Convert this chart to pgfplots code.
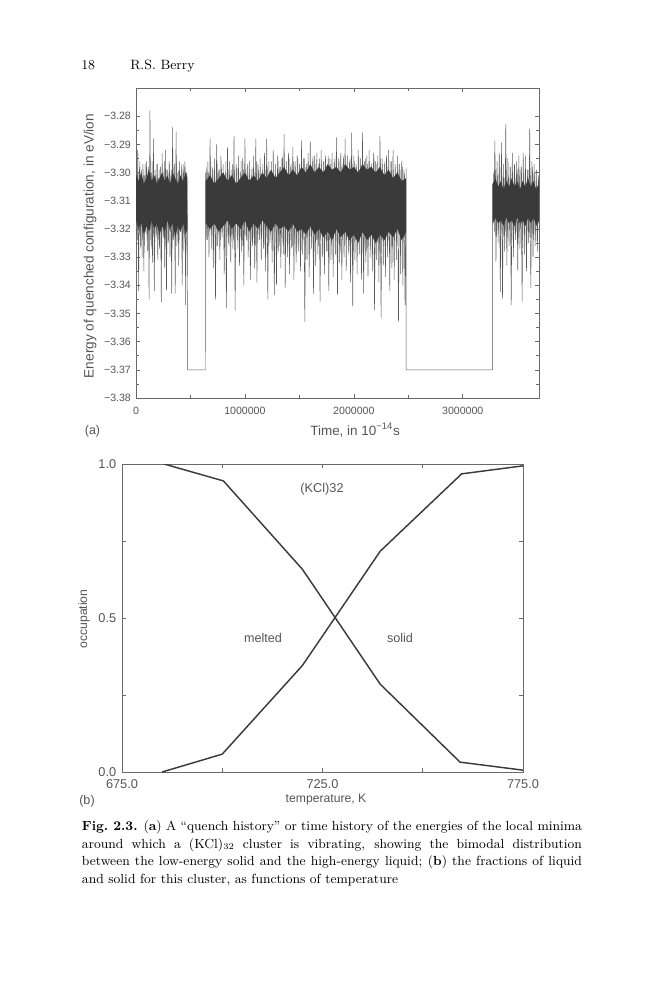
\documentclass[border=0pt]{standalone}
\usepackage{fontspec}
\usepackage{pgfplots}
\pgfplotsset{compat=1.18}
\newfontfamily\hv{Liberation Sans}
\definecolor{framegray}{RGB}{105,105,105}
\definecolor{labelgray}{RGB}{85,85,85}
\definecolor{linegray}{RGB}{88,88,88}
\definecolor{fringegray}{RGB}{100,100,100}
\definecolor{bandgray}{RGB}{58,58,58}
\definecolor{curvegray}{RGB}{58,58,58}
\begin{document}
\begin{tikzpicture}
\begin{scope}[x=0.69pt,y=-0.69pt]
\path[use as bounding box] (0,0) rectangle (659,1000);
\end{scope}
% ---------------- (a) quench history ----------------
\begin{axis}[
  at={(93.84pt,-274.62pt)}, anchor=south west,
  width=278.07pt, height=213.9pt, scale only axis,
  xmin=0, xmax=3700, ymin=-3.38, ymax=-3.27,
  xtick={0,1000,2000,3000}, xticklabels={0,1000000,2000000,3000000},
  minor x tick num=1,
  ytick={-3.38,-3.37,-3.36,-3.35,-3.34,-3.33,-3.32,-3.31,-3.30,-3.29,-3.28},
  yticklabels={−3.38,−3.37,−3.36,−3.35,−3.34,−3.33,−3.32,−3.31,−3.30,−3.29,−3.28},
  minor y tick num=1,
  axis line style={draw=framegray, line width=0.4pt},
  every tick/.style={draw=framegray, line width=0.4pt},
  major tick length=2.6pt, minor tick length=1.8pt,
  tick label style={font=\hv\fontsize{7.3}{8}\selectfont, text=labelgray},
  xticklabel style={yshift=-2.5pt},
]
% quenched energies (main trace, with the spikes and the solid-state plateaus)
\addplot[draw=linegray, line width=0.33pt] coordinates {
(0,-3.292) (8,-3.322) (16,-3.292) (24,-3.342) (32,-3.298) (40,-3.326) (48,-3.300) (56,-3.330) (64,-3.297) (72,-3.335) (80,-3.301) (88,-3.321) (96,-3.296) (104,-3.328) (112,-3.299) (120,-3.345) (128,-3.278) (136,-3.324) (144,-3.300) (152,-3.332) (160,-3.288) (168,-3.342) (176,-3.299) (184,-3.323) (192,-3.297) (200,-3.331) (208,-3.302) (216,-3.327) (224,-3.298) (232,-3.346) (240,-3.293) (248,-3.322) (256,-3.300) (264,-3.334) (272,-3.292) (280,-3.342) (288,-3.299) (296,-3.325) (304,-3.296) (312,-3.330) (320,-3.301) (328,-3.343) (336,-3.284) (344,-3.324) (352,-3.297) (360,-3.343) (368,-3.2855) (376,-3.326) (384,-3.300) (392,-3.333) (400,-3.296) (408,-3.321) (416,-3.299) (424,-3.340) (432,-3.297) (440,-3.328) (448,-3.296) (456,-3.347) (464,-3.300) (472,-3.318)
(474,-3.370) (638,-3.370)
(640,-3.300) (650,-3.324) (660,-3.296) (670,-3.330) (680,-3.288) (690,-3.322) (700,-3.298) (710,-3.334) (720,-3.295) (730,-3.345) (740,-3.290) (750,-3.326) (760,-3.299) (770,-3.331) (780,-3.294) (790,-3.323) (800,-3.297) (810,-3.336) (820,-3.300) (830,-3.348) (840,-3.291) (850,-3.325) (860,-3.296) (870,-3.332) (880,-3.299) (890,-3.327) (900,-3.287) (910,-3.349) (920,-3.297) (930,-3.324) (940,-3.294) (950,-3.333) (960,-3.300) (970,-3.328) (980,-3.295) (990,-3.340)
(1000,-3.288) (1010,-3.323) (1020,-3.298) (1030,-3.330) (1040,-3.296) (1050,-3.338) (1060,-3.301) (1070,-3.326) (1080,-3.294) (1090,-3.334) (1100,-3.288) (1110,-3.339) (1120,-3.297) (1130,-3.324) (1140,-3.295) (1150,-3.331) (1160,-3.299) (1170,-3.327) (1180,-3.293) (1190,-3.335) (1200,-3.288) (1210,-3.345) (1220,-3.296) (1230,-3.325) (1240,-3.299) (1250,-3.332) (1260,-3.292) (1270,-3.3435) (1280,-3.297) (1290,-3.340) (1300,-3.294) (1310,-3.328) (1320,-3.298) (1330,-3.334) (1340,-3.295) (1350,-3.326) (1360,-3.2864) (1370,-3.341) (1380,-3.296) (1390,-3.330) (1400,-3.293) (1410,-3.336) (1420,-3.298) (1430,-3.327) (1440,-3.291) (1450,-3.338) (1460,-3.296) (1470,-3.332) (1480,-3.294) (1490,-3.328) (1500,-3.297) (1510,-3.335) (1520,-3.2887) (1530,-3.329) (1540,-3.295) (1550,-3.353) (1560,-3.298) (1570,-3.331) (1580,-3.293) (1590,-3.337) (1600,-3.289) (1610,-3.327) (1620,-3.296) (1630,-3.343) (1640,-3.294) (1650,-3.333) (1660,-3.293) (1670,-3.329) (1680,-3.297) (1690,-3.3458) (1700,-3.292) (1710,-3.330) (1720,-3.296) (1730,-3.336) (1740,-3.294) (1750,-3.328) (1760,-3.298) (1770,-3.342) (1780,-3.295) (1790,-3.331) (1800,-3.293) (1810,-3.337) (1820,-3.296) (1830,-3.329) (1840,-3.2875) (1850,-3.3435) (1860,-3.295) (1870,-3.332) (1880,-3.293) (1890,-3.338) (1900,-3.297) (1910,-3.330) (1920,-3.288) (1930,-3.335) (1940,-3.294) (1950,-3.328) (1960,-3.296) (1970,-3.339) (1980,-3.2858) (1990,-3.3476)
(2000,-3.294) (2010,-3.331) (2020,-3.297) (2030,-3.336) (2040,-3.292) (2050,-3.329) (2060,-3.295) (2070,-3.338) (2080,-3.2858) (2090,-3.343) (2100,-3.296) (2110,-3.332) (2120,-3.294) (2130,-3.337) (2140,-3.292) (2150,-3.330) (2160,-3.297) (2170,-3.335) (2180,-3.293) (2190,-3.3488) (2200,-3.296) (2210,-3.331) (2220,-3.294) (2230,-3.339) (2240,-3.287) (2250,-3.3517) (2260,-3.295) (2270,-3.333) (2280,-3.297) (2290,-3.337) (2300,-3.294) (2310,-3.330) (2320,-3.292) (2330,-3.342) (2340,-3.296) (2350,-3.334) (2360,-3.292) (2370,-3.338) (2380,-3.297) (2390,-3.331) (2400,-3.294) (2410,-3.353) (2420,-3.297) (2430,-3.336) (2440,-3.2958) (2450,-3.340) (2460,-3.299) (2470,-3.347) (2480,-3.2985)
(2481,-3.370) (3274,-3.370)
(3275,-3.304) (3285,-3.318) (3295,-3.2887) (3305,-3.3317) (3315,-3.296) (3325,-3.325) (3335,-3.293) (3345,-3.3423) (3355,-3.2893) (3365,-3.3447) (3375,-3.297) (3385,-3.328) (3395,-3.2828) (3405,-3.333) (3415,-3.295) (3425,-3.326) (3435,-3.298) (3445,-3.347) (3455,-3.293) (3465,-3.330) (3475,-3.297) (3485,-3.324) (3495,-3.296) (3505,-3.335) (3515,-3.294) (3525,-3.327) (3535,-3.298) (3545,-3.3458) (3555,-3.293) (3565,-3.329) (3575,-3.294) (3585,-3.335) (3595,-3.299) (3605,-3.325) (3615,-3.2846) (3625,-3.341) (3635,-3.296) (3645,-3.330) (3655,-3.297) (3665,-3.326) (3675,-3.299) (3685,-3.328) (3695,-3.301) (3700,-3.318)
};
% interleaved smaller fluctuations (fringe of the liquid band)
\addplot[draw=fringegray, line width=0.3pt] coordinates {
(4,-3.298) (12,-3.324) (20,-3.300) (28,-3.321) (36,-3.296) (44,-3.327) (52,-3.299) (60,-3.323) (68,-3.301) (76,-3.326) (84,-3.297) (92,-3.322) (100,-3.299) (108,-3.324) (116,-3.298) (124,-3.321) (132,-3.300) (140,-3.327) (148,-3.296) (156,-3.323) (164,-3.299) (172,-3.326) (180,-3.301) (188,-3.322) (196,-3.297) (204,-3.324) (212,-3.299) (220,-3.321) (228,-3.298) (236,-3.327) (244,-3.300) (252,-3.323) (260,-3.296) (268,-3.326) (276,-3.299) (284,-3.322) (292,-3.301) (300,-3.324) (308,-3.297) (316,-3.321) (324,-3.299) (332,-3.327) (340,-3.298) (348,-3.323) (356,-3.300) (364,-3.326) (372,-3.296) (380,-3.322) (388,-3.299) (396,-3.324) (404,-3.301) (412,-3.321) (420,-3.297) (428,-3.327) (436,-3.299) (444,-3.323) (452,-3.298) (460,-3.326) (468,-3.300)};
\addplot[draw=fringegray, line width=0.3pt] coordinates {
(645,-3.298) (655,-3.324) (665,-3.300) (675,-3.321) (685,-3.296) (695,-3.327) (705,-3.299) (715,-3.323) (725,-3.301) (735,-3.326) (745,-3.297) (755,-3.322) (765,-3.299) (775,-3.324) (785,-3.298) (795,-3.321) (805,-3.300) (815,-3.327) (825,-3.296) (835,-3.323) (845,-3.299) (855,-3.326) (865,-3.301) (875,-3.322) (885,-3.297) (895,-3.324) (905,-3.299) (915,-3.321) (925,-3.298) (935,-3.327) (945,-3.300) (955,-3.323) (965,-3.296) (975,-3.326) (985,-3.299) (995,-3.322)
(1005,-3.301) (1015,-3.324) (1025,-3.297) (1035,-3.321) (1045,-3.299) (1055,-3.327) (1065,-3.298) (1075,-3.323) (1085,-3.300) (1095,-3.326) (1105,-3.296) (1115,-3.322) (1125,-3.299) (1135,-3.324) (1145,-3.301) (1155,-3.321) (1165,-3.297) (1175,-3.327) (1185,-3.299) (1195,-3.323) (1205,-3.298) (1215,-3.326) (1225,-3.300) (1235,-3.322) (1245,-3.296) (1255,-3.324) (1265,-3.299) (1275,-3.321) (1285,-3.301) (1295,-3.327)
(1305,-3.296) (1315,-3.326) (1325,-3.298) (1335,-3.323) (1345,-3.294) (1355,-3.329) (1365,-3.297) (1375,-3.325) (1385,-3.299) (1395,-3.328) (1405,-3.295) (1415,-3.324) (1425,-3.297) (1435,-3.326) (1445,-3.296) (1455,-3.323) (1465,-3.298) (1475,-3.329) (1485,-3.294) (1495,-3.325) (1505,-3.297) (1515,-3.328) (1525,-3.299) (1535,-3.324) (1545,-3.295) (1555,-3.326) (1565,-3.297) (1575,-3.323) (1585,-3.296) (1595,-3.329) (1605,-3.298) (1615,-3.325) (1625,-3.294) (1635,-3.328) (1645,-3.297) (1655,-3.324) (1665,-3.299) (1675,-3.326) (1685,-3.295) (1695,-3.323) (1705,-3.297) (1715,-3.329) (1725,-3.296) (1735,-3.325) (1745,-3.298) (1755,-3.328) (1765,-3.294) (1775,-3.324) (1785,-3.297) (1795,-3.326) (1805,-3.299) (1815,-3.323) (1825,-3.295) (1835,-3.329) (1845,-3.297) (1855,-3.325) (1865,-3.296) (1875,-3.328) (1885,-3.298) (1895,-3.324) (1905,-3.294) (1915,-3.326) (1925,-3.297) (1935,-3.323) (1945,-3.299) (1955,-3.329) (1965,-3.295) (1975,-3.325) (1985,-3.297) (1995,-3.328)
(2005,-3.296) (2015,-3.324) (2025,-3.298) (2035,-3.326) (2045,-3.294) (2055,-3.323) (2065,-3.297) (2075,-3.329) (2085,-3.299) (2095,-3.325) (2105,-3.295) (2115,-3.328) (2125,-3.297) (2135,-3.324) (2145,-3.296) (2155,-3.326) (2165,-3.298) (2175,-3.323) (2185,-3.294) (2195,-3.329) (2205,-3.297) (2215,-3.325) (2225,-3.299) (2235,-3.328) (2245,-3.295) (2255,-3.324) (2265,-3.297) (2275,-3.326) (2285,-3.296) (2295,-3.323)
(2305,-3.298) (2315,-3.324) (2325,-3.300) (2335,-3.321) (2345,-3.296) (2355,-3.327) (2365,-3.299) (2375,-3.323) (2385,-3.301) (2395,-3.326) (2405,-3.297) (2415,-3.322) (2425,-3.299) (2435,-3.324) (2445,-3.298) (2455,-3.321) (2465,-3.300) (2475,-3.327)};
\addplot[draw=fringegray, line width=0.3pt] coordinates {
(3280,-3.300) (3290,-3.321) (3300,-3.299) (3310,-3.323) (3320,-3.301) (3330,-3.320) (3340,-3.298) (3350,-3.324) (3360,-3.300) (3370,-3.322) (3380,-3.302) (3390,-3.321) (3400,-3.299) (3410,-3.323) (3420,-3.301) (3430,-3.320) (3440,-3.298) (3450,-3.324) (3460,-3.300) (3470,-3.322) (3480,-3.302) (3490,-3.321) (3500,-3.299) (3510,-3.323) (3520,-3.301) (3530,-3.320) (3540,-3.298) (3550,-3.324) (3560,-3.300) (3570,-3.322) (3580,-3.302) (3590,-3.321) (3600,-3.299) (3610,-3.323) (3620,-3.301) (3630,-3.320) (3640,-3.298) (3650,-3.324) (3660,-3.300) (3670,-3.322) (3680,-3.302) (3690,-3.321)};
% dense core of the liquid-state band
\addplot[fill=bandgray, draw=none] coordinates {
(0,-3.301) (24,-3.303) (48,-3.300) (72,-3.304) (96,-3.302) (120,-3.299) (144,-3.303) (168,-3.301) (192,-3.304) (216,-3.302) (240,-3.300) (264,-3.303) (288,-3.301) (312,-3.304) (336,-3.300) (360,-3.302) (384,-3.304) (408,-3.301) (432,-3.303) (456,-3.300) (472,-3.302)
(472,-3.320) (456,-3.322) (432,-3.318) (408,-3.321) (384,-3.319) (360,-3.323) (336,-3.318) (312,-3.320) (288,-3.317) (264,-3.321) (240,-3.319) (216,-3.322) (192,-3.318) (168,-3.320) (144,-3.317) (120,-3.321) (96,-3.319) (72,-3.322) (48,-3.318) (24,-3.320) (0,-3.317)};
\addplot[fill=bandgray, draw=none] coordinates {
(640,-3.303) (680,-3.301) (720,-3.304) (760,-3.302) (800,-3.300) (840,-3.303) (880,-3.301) (920,-3.304) (960,-3.302) (1000,-3.300) (1040,-3.303) (1080,-3.301) (1120,-3.303) (1160,-3.300) (1200,-3.302) (1240,-3.299) (1280,-3.302) (1320,-3.300) (1360,-3.298) (1400,-3.301) (1440,-3.299) (1480,-3.301) (1520,-3.298) (1560,-3.300) (1600,-3.297) (1640,-3.300) (1680,-3.298) (1720,-3.300) (1760,-3.297) (1800,-3.299) (1840,-3.298) (1880,-3.300) (1920,-3.297) (1960,-3.299) (2000,-3.298) (2040,-3.300) (2080,-3.297) (2120,-3.299) (2160,-3.298) (2200,-3.300) (2240,-3.298) (2280,-3.301) (2320,-3.299) (2360,-3.302) (2400,-3.300) (2440,-3.303) (2480,-3.302)
(2480,-3.321) (2440,-3.324) (2400,-3.320) (2360,-3.323) (2320,-3.321) (2280,-3.324) (2240,-3.322) (2200,-3.325) (2160,-3.322) (2120,-3.324) (2080,-3.321) (2040,-3.325) (2000,-3.322) (1960,-3.324) (1920,-3.321) (1880,-3.323) (1840,-3.320) (1800,-3.324) (1760,-3.321) (1720,-3.323) (1680,-3.320) (1640,-3.322) (1600,-3.319) (1560,-3.322) (1520,-3.320) (1480,-3.321) (1440,-3.318) (1400,-3.321) (1360,-3.319) (1320,-3.320) (1280,-3.318) (1240,-3.321) (1200,-3.319) (1160,-3.317) (1120,-3.320) (1080,-3.318) (1040,-3.321) (1000,-3.317) (960,-3.320) (920,-3.318) (880,-3.320) (840,-3.317) (800,-3.319) (760,-3.321) (720,-3.318) (680,-3.320) (640,-3.318)};
\addplot[fill=bandgray, draw=none] coordinates {
(3275,-3.304) (3300,-3.302) (3325,-3.305) (3350,-3.303) (3375,-3.306) (3400,-3.303) (3425,-3.305) (3450,-3.302) (3475,-3.305) (3500,-3.303) (3525,-3.306) (3550,-3.303) (3575,-3.305) (3600,-3.302) (3625,-3.305) (3650,-3.303) (3675,-3.306) (3700,-3.304)
(3700,-3.317) (3675,-3.319) (3650,-3.316) (3625,-3.318) (3600,-3.316) (3575,-3.319) (3550,-3.317) (3525,-3.318) (3500,-3.316) (3475,-3.319) (3450,-3.317) (3425,-3.318) (3400,-3.316) (3375,-3.319) (3350,-3.317) (3325,-3.318) (3300,-3.316) (3275,-3.318)};
\end{axis}
% ---------------- (b) occupation ----------------
\begin{axis}[
  at={(84.18pt,-532.68pt)}, anchor=south west,
  width=276.69pt, height=212.52pt, scale only axis,
  xmin=675, xmax=775, ymin=0, ymax=1,
  xtick={675,725,775}, xticklabels={675.0,725.0,775.0},
  minor x tick num=1,
  ytick={0,0.5,1}, yticklabels={0.0,0.5,1.0},
  minor y tick num=1,
  axis line style={draw=framegray, line width=0.45pt},
  every tick/.style={draw=framegray, line width=0.4pt},
  major tick length=2.6pt, minor tick length=2.6pt,
  tick label style={font=\hv\fontsize{8.8}{10}\selectfont, text=labelgray},
  xticklabel style={yshift=-1.5pt},
  yticklabel style={xshift=-0.5pt},
]
\addplot[draw=curvegray, line width=1pt] coordinates {
(685.5,1.0) (700.3,0.945) (720,0.658) (739.4,0.285) (759.3,0.032) (775,0.006)};
\addplot[draw=curvegray, line width=1pt] coordinates {
(685,0.0) (700,0.058) (720,0.346) (739.4,0.717) (759.7,0.968) (775,0.994)};
\end{axis}
% ---------------- page text ----------------
\begin{scope}[x=0.69pt,y=-0.69pt]
\node[anchor=base west, inner sep=0pt, font=\fontsize{9.3}{11}\selectfont] at (81,69.5) {18};
\node[anchor=base west, inner sep=0pt, font=\fontsize{9.3}{11}\selectfont] at (130,69.5) {R.S. Berry};
\node[rotate=90, inner sep=0pt, text=labelgray, font=\hv\fontsize{9.4}{11}\selectfont] at (90,246) {Energy of quenched configuration, in eV/ion};
\node[anchor=base west, inner sep=0pt, text=labelgray, font=\hv\fontsize{9.3}{11}\selectfont] at (310,435.5) {Time, in 10\textsuperscript{−14}s};
\node[inner sep=0pt, text=labelgray, font=\hv\fontsize{8.6}{10}\selectfont] at (92.5,431.5) {(a)};
\node[rotate=90, inner sep=0pt, text=labelgray, font=\hv\fontsize{8.4}{10}\selectfont] at (84,619) {occupation};
\node[inner sep=0pt, text=labelgray, font=\hv\fontsize{8.4}{10}\selectfont] at (326,800) {temperature, K};
\node[inner sep=0pt, text=labelgray, font=\hv\fontsize{8.7}{10}\selectfont] at (87,801) {(b)};
\node[inner sep=0pt, text=labelgray, font=\hv\fontsize{8.8}{10}\selectfont] at (322,489) {(KCl)32};
\node[inner sep=0pt, text=labelgray, font=\hv\fontsize{8.7}{10}\selectfont] at (263,637.5) {melted};
\node[inner sep=0pt, text=labelgray, font=\hv\fontsize{8.7}{10}\selectfont] at (400,637.5) {solid};
\node[anchor=north west, inner sep=0pt, text width=345pt, align=justify, font=\fontsize{9.1}{12.1}\selectfont] at (81.7,820.5)
{\textbf{Fig.\ 2.3.} (\textbf{a}) A “quench history” or time history of the energies of the local minima\linebreak
around which a (KCl)$_{32}$ cluster is vibrating, showing the bimodal distribution\linebreak
between the low-energy solid and the high-energy liquid; (\textbf{b}) the fractions of liquid\linebreak
and solid for this cluster, as functions of temperature};
\end{scope}
\end{tikzpicture}
\end{document}
